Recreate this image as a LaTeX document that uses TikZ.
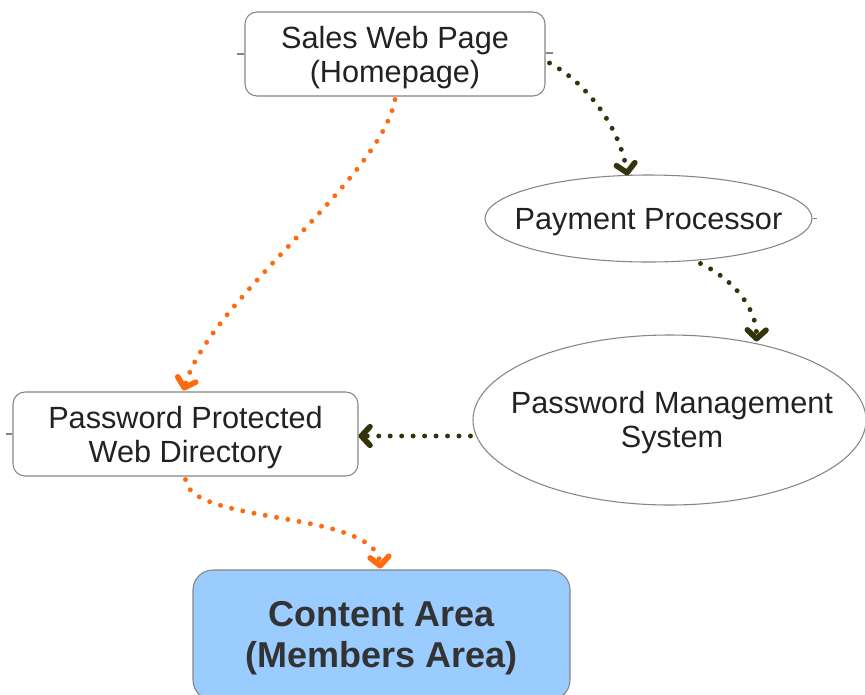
\documentclass[tikz,border=0pt]{standalone}
\usepackage{fontspec}
\setmainfont{Liberation Sans}
\usetikzlibrary{shapes.geometric,arrows.meta,calc}
\definecolor{edgegray}{HTML}{858585}
\definecolor{txt}{HTML}{222222}
\definecolor{orangeline}{HTML}{FF6A0E}
\definecolor{oliveline}{HTML}{34330A}
\definecolor{contentblue}{HTML}{9ACCFF}
\tikzset{
  box/.style={draw=edgegray, line width=0.8pt, fill=white, rounded corners=9pt, inner sep=0pt},
  oval/.style={draw=edgegray, line width=0.8pt, fill=white, ellipse, inner sep=0pt},
  label text/.style={align=center, text=txt, font=\fontsize{23}{25.5}\selectfont, yshift=-2.5pt},
  contentbox/.style={draw=edgegray, line width=0.8pt, fill=contentblue, rounded corners=15pt, inner sep=0pt},
  content text/.style={align=center, text={black!80}, font=\fontsize{27}{30.75}\selectfont\bfseries, yshift=-2.5pt},
  dotline/.style={line width=3.7pt, line cap=round, dash pattern=on 0pt off 8.6pt},
  chev/.style={-{Straight Barb[length=6.5pt,width=14pt,line width=4.2pt,round]}},
  orangeflow/.style={dotline, draw=orangeline, chev},
  oliveflow/.style={dotline, draw=oliveline, chev},
  stub/.style={draw=edgegray, line width=0.8pt}
}
\begin{document}
\begin{tikzpicture}[x=0.75pt,y=-0.75pt]
\clip (0,0) rectangle (865,694);
\fill[white] (0,0) rectangle (865,694);
% nodes
\node[box, minimum width=225pt, minimum height=63pt] (sales) at (395,54) {};
\node[label text] (salestext) at (sales.center) {Sales Web Page\\(Homepage)};
\node[oval, minimum width=245.25pt, minimum height=65.25pt] (pay) at (648.5,218.5) {};
\node[label text] (paytext) at (pay.center) {Payment Processor};
\node[oval, minimum width=294.75pt, minimum height=127.5pt] (pm) at (669.5,420) {};
\node[label text] (pmtext) at (672,419) {Password Management\\System};
\node[box, minimum width=258.75pt, minimum height=63pt] (pp) at (185.5,434) {};
\node[label text] (pptext) at (pp.center) {Password Protected\\Web Directory};
\node[contentbox, minimum width=282.75pt, minimum height=97.5pt] (content) at (381.5,635) {};
\node[content text] (contenttext) at (content.center) {Content Area\\(Members Area)};
% stubs
\draw[stub] (sales.west) -- ++(-7,0);
\draw[stub] ($(sales.east)+(0,-1)$) -- ++(7,0);
\draw[stub] (pay.east) -- ++(4,0);
\draw[stub] (pp.west) -- ++(-6,0);
% connectors
\draw[orangeflow] ($(sales.south)+(0,3)$) .. controls (380,180) and (210,300) .. ($(pp.north)+(-2,-1)$);
\draw[orangeflow] ($(pp.south)+(0,3)$) .. controls (190,525) and (375,510) .. ($(content.north)+(-1,-1)$);
\draw[oliveflow] ($(sales.east)+(4,9)$) .. controls (590,85) and (620,130) .. ($(pay.north)+(-21,1)$);
\draw[oliveflow] ($(pay.south)+(52,1)$) .. controls (735,280) and (757,310) .. ($(pm.north)+(87,7)$);
\draw[oliveflow] ($(pm.west)+(-2,16)$) -- ($(pp.east)+(0,2)$);
\end{tikzpicture}
\end{document}
